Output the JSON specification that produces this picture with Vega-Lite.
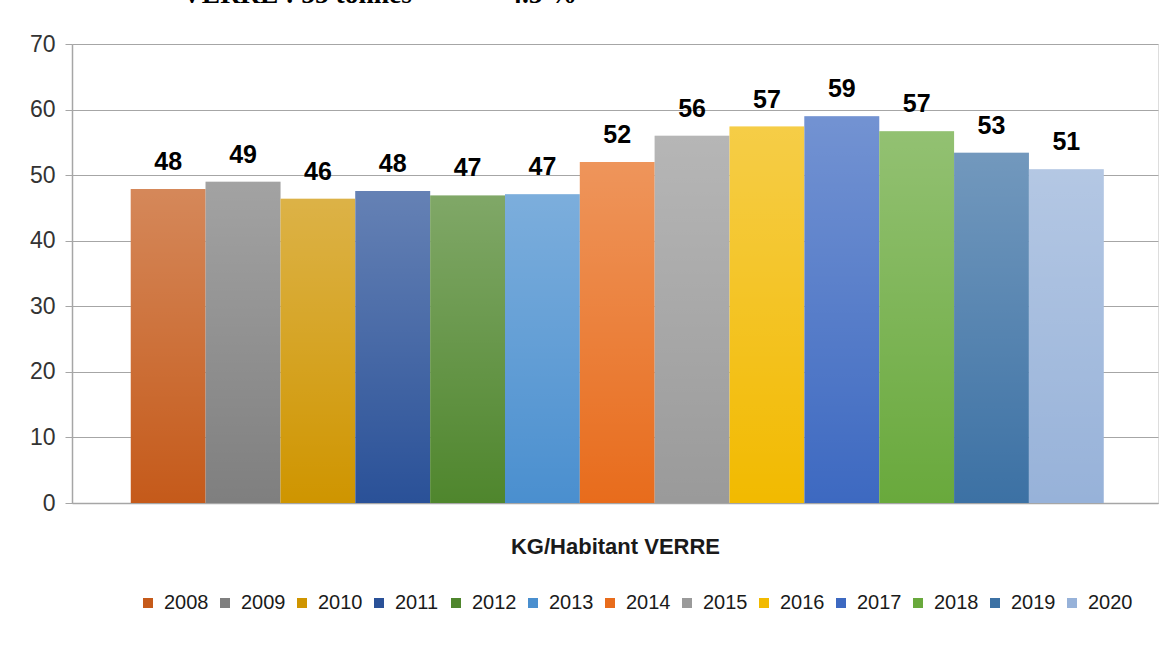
{
  "$schema": "https://vega.github.io/schema/vega-lite/v6.json",
  "width": 1086,
  "height": 459,
  "autosize": {"type": "none"},
  "padding": {"left": 72, "top": 44, "right": 18, "bottom": 145},
  "background": "white",
  "title": {
    "text": "VERRE :\u00a055 tonnes\u00a0\u00a0\u00a0\u00a0\u00a0\u00a0\u00a0\u00a0\u00a0\u00a0\u00a0\u00a0\u00a0\u00a04.5 %",
    "font": "Liberation Serif",
    "fontSize": 27.5,
    "fontWeight": "bold",
    "color": "#000000",
    "anchor": "start",
    "frame": "group",
    "dx": 110,
    "offset": 3,
    "baseline": "alphabetic"
  },
  "data": {
    "values": [
      {"year": "2008", "kg": 47.9},
      {"year": "2009", "kg": 49.0},
      {"year": "2010", "kg": 46.4},
      {"year": "2011", "kg": 47.6},
      {"year": "2012", "kg": 46.9},
      {"year": "2013", "kg": 47.1},
      {"year": "2014", "kg": 52.0},
      {"year": "2015", "kg": 56.0},
      {"year": "2016", "kg": 57.4},
      {"year": "2017", "kg": 59.0},
      {"year": "2018", "kg": 56.7},
      {"year": "2019", "kg": 53.4},
      {"year": "2020", "kg": 50.9}
    ]
  },
  "encoding": {
    "x": {
      "field": "year",
      "type": "nominal",
      "scale": {"paddingInner": 0, "paddingOuter": 0.755, "align": 0.52},
      "axis": {
        "labels": false,
        "ticks": false,
        "grid": false,
        "domainColor": "#A6A6A6",
        "domainWidth": 1.5,
        "title": "KG/Habitant VERRE",
        "titleFont": "Liberation Sans",
        "titleFontSize": 22,
        "titleFontWeight": "bold",
        "titleColor": "#1a1a1a",
        "titlePadding": 33
      }
    },
    "y": {
      "field": "kg",
      "type": "quantitative",
      "scale": {"domain": [0, 70], "nice": false},
      "axis": {
        "values": [0, 10, 20, 30, 40, 50, 60, 70],
        "title": null,
        "domainColor": "#A6A6A6",
        "domainWidth": 1.5,
        "tickColor": "#A6A6A6",
        "tickSize": 7,
        "gridColor": "#A6A6A6",
        "gridWidth": 1.2,
        "labelFont": "Liberation Sans",
        "labelFontSize": 23,
        "labelColor": "#333333",
        "labelPadding": 10
      }
    }
  },
  "layer": [
    {
      "mark": {"type": "bar"},
      "encoding": {
        "color": {
          "field": "year",
          "type": "nominal",
          "scale": {
            "domain": ["2008","2009","2010","2011","2012","2013","2014","2015","2016","2017","2018","2019","2020"],
            "range": ["#C55A1A","#7F7F7F","#CF9500","#2A5198","#4F862D","#4A8FCF","#E86C1C","#9A9A9A","#F2BA00","#3D69C1","#69A93C","#3C71A4","#97B2D9"]
          },
          "legend": {
            "orient": "none",
            "legendX": 66,
            "legendY": 549,
            "direction": "horizontal",
            "columns": 13,
            "title": null,
            "symbolType": "square",
            "symbolSize": 100,
            "symbolStrokeWidth": 0,
            "symbolOpacity": 1,
            "labelFont": "Liberation Sans",
            "labelFontSize": 20,
            "labelColor": "#1a1a1a",
            "labelOffset": 6,
            "gridAlign": "all",
            "columnPadding": 6,
            "padding": 0
          }
        }
      }
    },
    {
      "mark": {
        "type": "bar",
        "color": {
          "gradient": "linear",
          "x1": 0, "y1": 0, "x2": 0, "y2": 1,
          "stops": [
            {"offset": 0, "color": "rgba(255,255,255,0.28)"},
            {"offset": 1, "color": "rgba(255,255,255,0)"}
          ]
        }
      },
      "encoding": {}
    },
    {
      "mark": {
        "type": "text",
        "baseline": "middle",
        "dy": -27,
        "font": "Liberation Sans",
        "fontSize": 25,
        "fontWeight": "bold",
        "color": "#000000"
      },
      "encoding": {
        "text": {"field": "kg", "type": "quantitative", "format": ".0f"}
      }
    }
  ]
}
